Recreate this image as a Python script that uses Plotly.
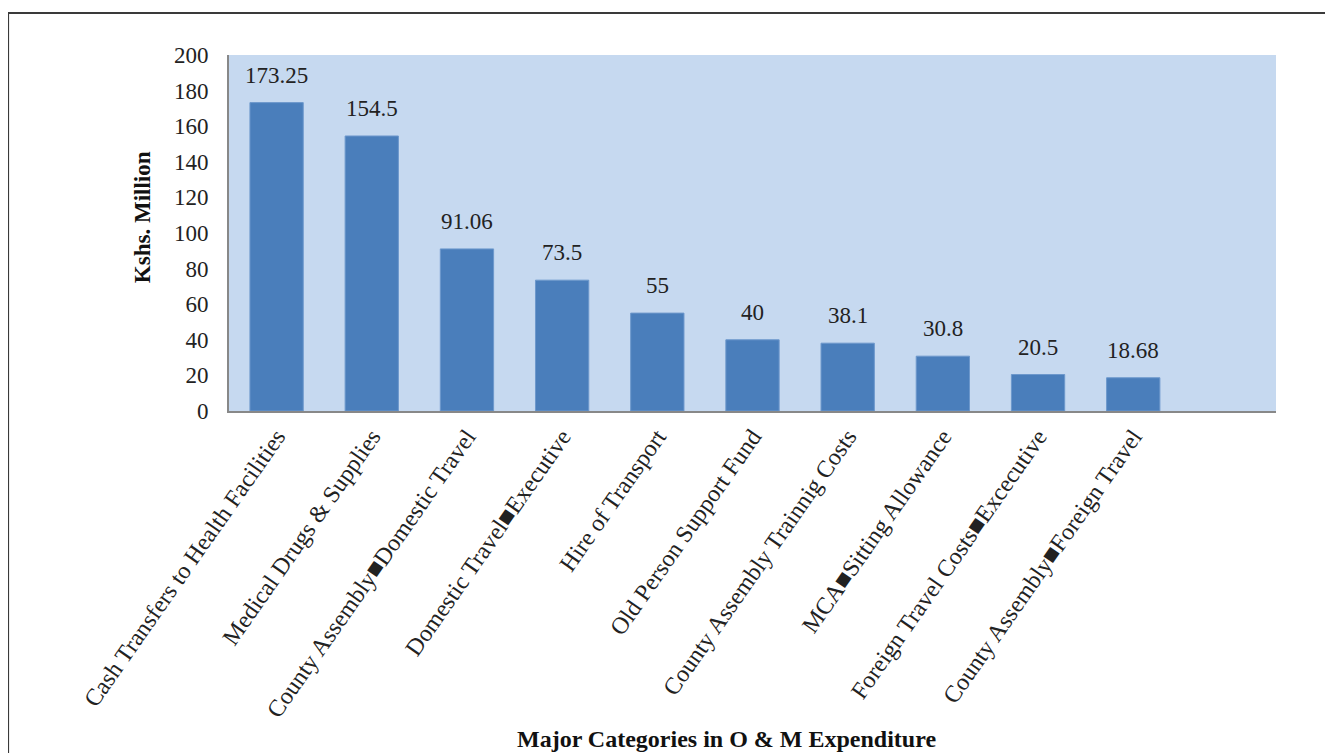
import plotly.graph_objects as go

# categories and values (Kshs. Million)
categories = [
    "Cash Transfers to Health Facilities",
    "Medical Drugs & Supplies",
    "County Assembly■Domestic Travel",
    "Domestic Travel■Executive",
    "Hire of Transport",
    "Old Person Support Fund",
    "County Assembly Trainnig Costs",
    "MCA■Sitting Allowance",
    "Foreign Travel Costs■Excecutive",
    "County Assembly■Foreign Travel",
]
values = [173.25, 154.5, 91.06, 73.5, 55, 40, 38.1, 30.8, 20.5, 18.68]
value_labels = ["173.25", "154.5", "91.06", "73.5", "55", "40", "38.1", "30.8", "20.5", "18.68"]
y_ticks = [0, 20, 40, 60, 80, 100, 120, 140, 160, 180, 200]

serif = "Liberation Serif"

fig = go.Figure()
fig.add_trace(go.Bar(
    x=categories, y=values,
    marker=dict(color="#4a7ebb", line=dict(color="#6d98cc", width=1)),
    width=0.56,
))

# data labels above the bars
for c, v, t in zip(categories, values, value_labels):
    fig.add_annotation(x=c, y=v, text=t, showarrow=False, yanchor="bottom",
                       yshift=13, font=dict(family=serif, size=23, color="#222"))

# axis titles
fig.add_annotation(x=0.475, y=-0.92, xref="paper", yref="paper", showarrow=False,
                   text="<b>Major Categories in O & M Expenditure</b>",
                   yanchor="middle", font=dict(family=serif, size=24, color="#111"))
fig.add_annotation(x=-0.082, y=0.545, xref="paper", yref="paper", showarrow=False,
                   text="<b>Kshs. Million</b>", textangle=-90,
                   xanchor="center", yanchor="middle",
                   font=dict(family=serif, size=23, color="#111"))

# outer frame
fig.add_shape(type="rect", xref="paper", yref="paper",
              x0=-0.211, x1=1.054, y0=-1.05, y1=1.118,
              line=dict(color="#3a3a3a", width=2), layer="below")

fig.update_layout(
    width=1333, height=753,
    margin=dict(l=221, r=65, t=47, b=350),
    paper_bgcolor="white",
    plot_bgcolor="#c6d9f0",
    showlegend=False,
    font=dict(family=serif, color="#111"),
)
fig.update_xaxes(
    type="category", range=[-0.5, 10.5],
    tickangle=-55, tickfont=dict(family=serif, size=24, color="#222"),
    showline=True, linecolor="#888", linewidth=2, ticks="", showgrid=False,
)
fig.update_yaxes(
    range=[0, 200], tickvals=y_ticks, showgrid=False, zeroline=False,
    showline=True, linecolor="#888", linewidth=2, ticks="",
    ticklabelstandoff=14,
    tickfont=dict(family=serif, size=23, color="#222"),
)

fig.write_html("out.html")
